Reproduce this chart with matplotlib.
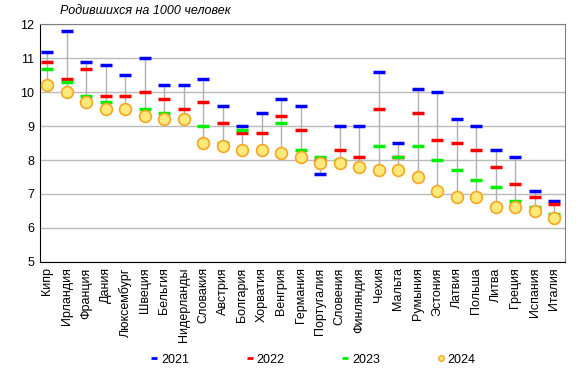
import matplotlib
matplotlib.use('Agg')
import matplotlib.pyplot as plt
from matplotlib.lines import Line2D

plt.rcParams['font.family'] = ['Liberation Sans', 'DejaVu Sans']

# рождаемость на 1000 человек
countries = ['Кипр', 'Ирландия', 'Франция', 'Дания', 'Люксембург', 'Швеция', 'Бельгия',
             'Нидерланды', 'Словакия', 'Австрия', 'Болгария', 'Хорватия', 'Венгрия',
             'Германия', 'Португалия', 'Словения', 'Финляндия', 'Чехия', 'Мальта',
             'Румыния', 'Эстония', 'Латвия', 'Польша', 'Литва', 'Греция', 'Испания', 'Италия']
y2021 = [11.2, 11.8, 10.9, 10.8, 10.5, 11.0, 10.2, 10.2, 10.4, 9.6, 9.0, 9.4, 9.8,
         9.6, 7.6, 9.0, 9.0, 10.6, 8.5, 10.1, 10.0, 9.2, 9.0, 8.3, 8.1, 7.1, 6.8]
y2022 = [10.9, 10.4, 10.7, 9.9, 9.9, 10.0, 9.8, 9.5, 9.7, 9.1, 8.8, 8.8, 9.3,
         8.9, 8.0, 8.3, 8.1, 9.5, 8.1, 9.4, 8.6, 8.5, 8.3, 7.8, 7.3, 6.9, 6.7]
y2023 = [10.7, 10.3, 9.9, 9.7, 9.5, 9.5, 9.4, 9.2, 9.0, 8.5, 8.9, 8.3, 9.1,
         8.3, 8.1, 8.0, 7.8, 8.4, 8.1, 8.4, 8.0, 7.7, 7.4, 7.2, 6.8, 6.6, 6.4]
y2024 = [10.2, 10.0, 9.7, 9.5, 9.5, 9.3, 9.2, 9.2, 8.5, 8.4, 8.3, 8.3, 8.2,
         8.1, 7.9, 7.9, 7.8, 7.7, 7.7, 7.5, 7.1, 6.9, 6.9, 6.6, 6.6, 6.5, 6.3]

fig = plt.figure(figsize=(5.8, 3.76), dpi=100)
ax = fig.add_axes([0.069, 0.304, 0.905, 0.631])

x = list(range(len(countries)))
lo = [min(v) for v in zip(y2021, y2022, y2023, y2024)]
hi = [max(v) for v in zip(y2021, y2022, y2023, y2024)]
ax.vlines(x, lo, hi, color='#b0b0b0', lw=1, zorder=2)

ax.plot(x, y2021, ls='none', marker='_', ms=8, mew=2.5, color='#0000ff', zorder=3)
ax.plot(x, y2022, ls='none', marker='_', ms=8, mew=2.5, color='#ff0000', zorder=3)
ax.plot(x, y2023, ls='none', marker='_', ms=8, mew=2.5, color='#00ee00', zorder=3)
ax.plot(x, y2024, ls='none', marker='o', ms=8.5, mew=1.2, mfc='#ffe97a', mec='#f5a623', zorder=4)

ax.set_xlim(-0.36, 26.56)
ax.set_ylim(5, 12)
ax.set_yticks(range(5, 13))
ax.set_xticks(x)
ax.set_xticklabels(countries, rotation=90, fontsize=9)
ax.tick_params(length=0, labelsize=9, pad=4)
ax.grid(axis='y', color='#bbbbbb', lw=1)
ax.set_axisbelow(True)
ax.spines['top'].set_color('#808080')
ax.spines['right'].set_color('#808080')

fig.text(0.103, 0.962, 'Родившихся на 1000 человек', fontsize=9, style='italic')

handles = [
    Line2D([], [], ls='none', marker='_', ms=4, mew=2, color='#0000ff'),
    Line2D([], [], ls='none', marker='_', ms=4, mew=2, color='#ff0000'),
    Line2D([], [], ls='none', marker='_', ms=4, mew=2, color='#00ee00'),
    Line2D([], [], ls='none', marker='o', ms=4, mew=1, mfc='#ffe97a', mec='#f5a623'),
]
fig.legend(handles, ['2021', '2022', '2023', '2024'], ncol=4, loc='center',
           bbox_to_anchor=(0.54, 0.043), frameon=False, fontsize=9,
           handlelength=0.5, handletextpad=0.3, columnspacing=4.6)

fig.savefig('out.png', dpi=100)
